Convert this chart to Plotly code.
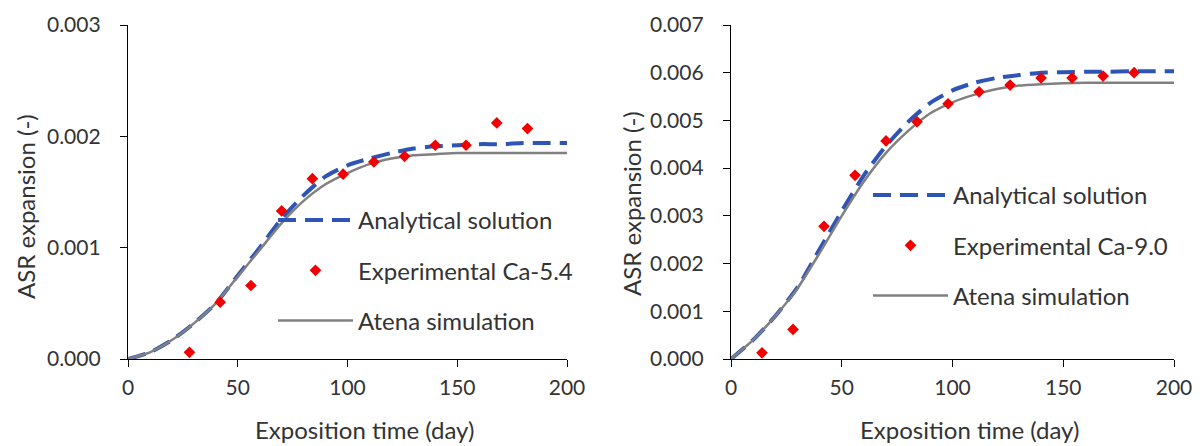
import plotly.graph_objects as go

# ---------------- data ----------------
curve_days = [0, 10, 20, 30, 40, 50, 60, 70, 80, 90, 100, 110, 120, 130, 140, 150, 160, 170, 180, 190, 200]

# Left panel (Ca-5.4)
analytical_54 = [0.0, 0.00006, 0.00017, 0.00032, 0.00050, 0.00075, 0.00100, 0.00126, 0.00147, 0.00164,
                 0.00174, 0.00180, 0.00185, 0.00189, 0.00191, 0.00192, 0.00193, 0.00193, 0.00194, 0.00194, 0.00194]
atena_54 = [0.0, 0.00006, 0.00017, 0.00032, 0.00050, 0.00074, 0.00098, 0.00122, 0.00142, 0.00157,
            0.00167, 0.00175, 0.00180, 0.00183, 0.00184, 0.00185, 0.00185, 0.00185, 0.00185, 0.00185, 0.00185]
exp_days_54 = [28, 42, 56, 70, 84, 98, 112, 126, 140, 154, 168, 182]
exp_54 = [0.00006, 0.00051, 0.00066, 0.00133, 0.00162, 0.00166, 0.00177, 0.00182, 0.00192, 0.00192, 0.00212, 0.00207]

# Right panel (Ca-9.0)
analytical_90 = [0.0, 0.00040, 0.00090, 0.00150, 0.00230, 0.00310, 0.00385, 0.00447, 0.00497, 0.00537,
                 0.00563, 0.00579, 0.00589, 0.00595, 0.00600, 0.00601, 0.00602, 0.00602, 0.00603, 0.00603, 0.00603]
atena_90 = [0.0, 0.00040, 0.00090, 0.00148, 0.00222, 0.00300, 0.00372, 0.00432, 0.00478, 0.00515,
            0.00538, 0.00554, 0.00566, 0.00573, 0.00576, 0.00578, 0.00579, 0.00579, 0.00579, 0.00579, 0.00579]
exp_days_90 = [14, 28, 42, 56, 70, 84, 98, 112, 126, 140, 154, 168, 182]
exp_90 = [0.00013, 0.00062, 0.00278, 0.00385, 0.00457, 0.00497, 0.00535, 0.00560, 0.00574, 0.00589, 0.00589, 0.00593, 0.00600]

names = ["Analytical solution", "Experimental Ca-5.4", "Experimental Ca-9.0", "Atena simulation"]
x_title = "Exposition time (day)"
y_title = "ASR expansion (-)"

# ---------------- style ----------------
FONT = "Lato"
FS_TICK = 21
FS = 24
TXT = "#333333"
BLUE = "#2E54B5"
RED = "#F00000"
GREY = "#808080"
W, H = 1187, 438   # page body adds an 8px margin around the figure

fig = go.Figure()

def add_panel(xa, ya, legend, analytical, atena, ed, ev, exp_name):
    fig.add_trace(go.Scatter(x=curve_days, y=analytical, mode="lines", name=names[0],
                             line=dict(color=BLUE, width=4, dash="18px,9px", shape="spline", smoothing=0.6),
                             xaxis=xa, yaxis=ya, legend=legend, legendgroup=legend + "a", legendrank=1))
    fig.add_trace(go.Scatter(x=curve_days, y=atena, mode="lines", name=names[3],
                             line=dict(color=GREY, width=2.5, shape="spline", smoothing=0.6),
                             xaxis=xa, yaxis=ya, legend=legend, legendgroup=legend + "c", legendrank=3))
    fig.add_trace(go.Scatter(x=ed, y=ev, mode="markers", name=exp_name,
                             marker=dict(symbol="diamond", size=9, color=RED),
                             xaxis=xa, yaxis=ya, legend=legend, legendgroup=legend + "b", legendrank=2))

add_panel("x", "y", "legend", analytical_54, atena_54, exp_days_54, exp_54, names[1])
add_panel("x2", "y2", "legend2", analytical_90, atena_90, exp_days_90, exp_90, names[2])

y_dom = [(H - 351) / H, (H - 17) / H]
axis_common = dict(showline=True, linecolor="black", linewidth=1.3, ticks="outside", ticklen=7,
                   tickcolor="black", tickwidth=1.3, showgrid=False, zeroline=False, automargin=False,
                   tickfont=dict(family=FONT, size=FS_TICK, color=TXT))

legend_common = dict(font=dict(family=FONT, size=FS, color=TXT), bgcolor="rgba(0,0,0,0)",
                     traceorder="grouped", tracegroupgap=16, itemwidth=75,
                     xanchor="left", yanchor="top")

title_font = dict(family=FONT, size=FS, color=TXT)
annotations = [
    dict(text=x_title, x=356 / W, y=1 - 421 / H, textangle=0),
    dict(text=x_title, x=961 / W, y=1 - 421 / H, textangle=0),
    dict(text=y_title, x=17 / W, y=1 - 199 / H, textangle=-90),
    dict(text=y_title, x=623 / W, y=1 - 196 / H, textangle=-90),
]
for a in annotations:
    a.update(xref="paper", yref="paper", xanchor="center", yanchor="middle", showarrow=False, font=title_font)

fig.update_layout(
    width=W, height=H, margin=dict(l=0, r=0, t=0, b=0),
    paper_bgcolor="white", plot_bgcolor="white",
    font=dict(family=FONT, size=FS, color=TXT),
    xaxis=dict(domain=[120 / W, 559 / W], range=[0, 200], dtick=50, anchor="y",
               ticklabelstandoff=3, **axis_common),
    yaxis=dict(domain=y_dom, range=[0, 0.003], dtick=0.001, tickformat=".3f", anchor="x",
               ticklabelstandoff=15, **axis_common),
    xaxis2=dict(domain=[723 / W, 1166 / W], range=[0, 200], dtick=50, anchor="y2",
                ticklabelstandoff=3, **axis_common),
    yaxis2=dict(domain=y_dom, range=[0, 0.007], dtick=0.001, tickformat=".3f", anchor="x2",
                ticklabelstandoff=15, **axis_common),
    legend=dict(x=265 / W, y=1 - 190 / H, **legend_common),
    legend2=dict(x=860 / W, y=1 - 165 / H, **legend_common),
    annotations=annotations,
)

fig.write_html("out.html")
